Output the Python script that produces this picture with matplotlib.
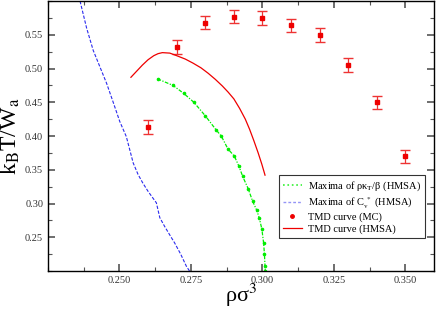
import matplotlib
matplotlib.use("Agg")
import matplotlib.pyplot as plt
from matplotlib.ticker import MultipleLocator
from matplotlib.lines import Line2D

plt.rcParams['font.family'] = ['Liberation Serif', 'DejaVu Serif']
plt.rcParams['mathtext.fontset'] = 'stix'

# TMD curve (MC)
mc_rho = [0.26, 0.27, 0.28, 0.29, 0.30, 0.31, 0.32, 0.33, 0.34, 0.35]
mc_T = [0.413, 0.532, 0.568, 0.577, 0.575, 0.564, 0.550, 0.505, 0.450, 0.370]
mc_err = [0.010, 0.010, 0.010, 0.010, 0.010, 0.010, 0.010, 0.010, 0.010, 0.010]

# TMD curve (HMSA)
tmd_rho = [0.254, 0.256, 0.258, 0.260, 0.262, 0.2635, 0.265, 0.2676, 0.2700, 0.2730, 0.2757, 0.2785,
           0.2810, 0.2835, 0.2860, 0.2880, 0.2900, 0.2920, 0.2940, 0.2955, 0.2970, 0.2985, 0.2998, 0.3009]
tmd_T = [0.487, 0.496, 0.505, 0.513, 0.519, 0.522, 0.5235, 0.5228, 0.519, 0.514, 0.508, 0.501,
         0.493, 0.484, 0.474, 0.465, 0.455, 0.441, 0.425, 0.410, 0.393, 0.375, 0.358, 0.342]

# Maxima of rho kappa_T / beta (HMSA)
kap_rho = [0.2633, 0.2687, 0.2725, 0.2760, 0.2800, 0.2838, 0.2856, 0.2879, 0.2902, 0.2918, 0.2931,
           0.2950, 0.2966, 0.2980, 0.2989, 0.2998, 0.3004, 0.3007, 0.3009, 0.3010]
kap_T = [0.4846, 0.475, 0.463, 0.450, 0.430, 0.409, 0.400, 0.381, 0.370, 0.355, 0.340,
         0.322, 0.303, 0.290, 0.2785, 0.262, 0.2415, 0.225, 0.207, 0.200]

# Maxima of Cv* (HMSA)
cv_rho = [0.2362, 0.2385, 0.2408, 0.2431, 0.2455, 0.2478, 0.2501, 0.2524, 0.2548, 0.2565, 0.2582,
          0.2600, 0.2617, 0.2629, 0.2641, 0.2658, 0.2675, 0.2693, 0.2714, 0.2734, 0.2745]
cv_T = [0.600, 0.560, 0.527, 0.503, 0.478, 0.450, 0.4215, 0.399, 0.360, 0.343, 0.330,
        0.318, 0.308, 0.301, 0.279, 0.266, 0.254, 0.2415, 0.225, 0.207, 0.200]

fig = plt.figure(figsize=(4.36, 3.13), dpi=100)
ax = fig.add_axes([48/436, 1 - 271/313, (434-48)/436, (271-1)/313])

green = '#00ee00'
blue = '#2a2aee'
red = '#ee0000'

ax.plot(kap_rho, kap_T, color=green, ls='-.', lw=0.9, marker='o', ms=1.6, dashes=(3, 1.2, 1, 1.2))
ax.plot(cv_rho, cv_T, color=blue, lw=0.8, ls='--', dashes=(3, 1.5))
ax.errorbar(mc_rho, mc_T, yerr=mc_err, fmt='s', color=red, ms=2.2,
            ecolor='#ee3333', elinewidth=0.9, capsize=3.5, capthick=1.0)
ax.plot(tmd_rho, tmd_T, color=red, lw=0.9)

ax.set_xlim(0.225, 0.36)
ax.set_ylim(0.20, 0.60)
ax.xaxis.set_minor_locator(MultipleLocator(0.0125))
ax.yaxis.set_minor_locator(MultipleLocator(0.025))
ax.set_xticks([0.250, 0.275, 0.300, 0.325, 0.350])
ax.set_xticklabels(['0.250', '0.275', '0.300', '0.325', '0.350'])
ax.set_yticks([0.25, 0.30, 0.35, 0.40, 0.45, 0.50, 0.55])
ax.set_yticklabels(['0.25', '0.30', '0.35', '0.40', '0.45', '0.50', '0.55'])
ax.tick_params(which='both', direction='in', top=True, right=True, labelsize=7.5,
               colors='#555555', labelcolor='#333333')
ax.tick_params(which='major', length=5, width=1.2)
ax.tick_params(which='minor', length=3, width=0.8)
for s in ax.spines.values():
    s.set_linewidth(1.0)

ax.set_xlabel('ρσ$^3$', fontsize=16, labelpad=-2)
ax.set_ylabel(r'k$_\mathrm{B}$T/W$_\mathrm{a}$', fontsize=17, labelpad=2)

handles = [
    Line2D([], [], color=green, ls=':', lw=1.2, alpha=0.8),
    Line2D([], [], color=blue, ls='--', lw=1.0, alpha=0.5, dashes=(2, 1.5)),
    Line2D([], [], color=red, ls='none', marker='o', ms=2.5),
    Line2D([], [], color=red, lw=0.9),
]
labels = [
    'Maxima of ρκ$_\\mathrm{T}$/β (HMSA)',
    'Maxima of C$_\\mathrm{v}^{\\ *}$ (HMSA)',
    'TMD curve (MC)',
    'TMD curve (HMSA)',
]
leg = ax.legend(handles, labels, loc='lower right', bbox_to_anchor=(0.977, 0.122), fontsize=7.5,
                frameon=True, fancybox=False, edgecolor='black', handlelength=1.8,
                borderpad=0.4, labelspacing=0.2, handletextpad=0.6, borderaxespad=0)
leg.get_frame().set_linewidth(0.8)

fig.savefig('out.png', dpi=100)
